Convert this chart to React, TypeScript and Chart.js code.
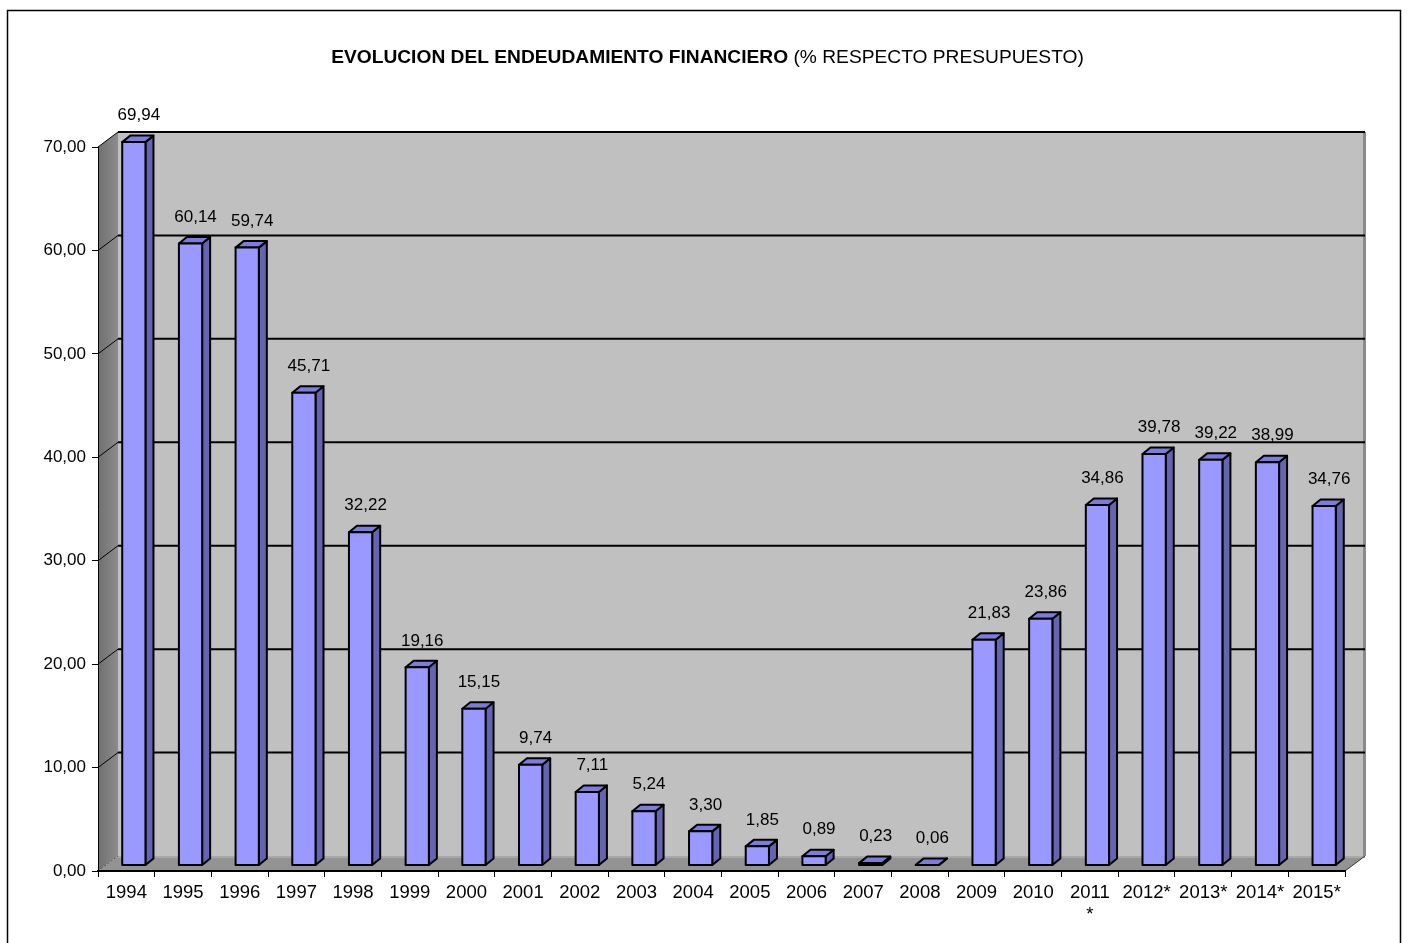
import React, { useEffect, useRef } from "react";
import { Chart, registerables } from "chart.js";

Chart.register(...registerables);

const categories = ["1994","1995","1996","1997","1998","1999","2000","2001","2002","2003","2004","2005","2006","2007","2008","2009","2010","2011\n*","2012*","2013*","2014*","2015*"];
const values = [69.94,60.14,59.74,45.71,32.22,19.16,15.15,9.74,7.11,5.24,3.30,1.85,0.89,0.23,0.06,21.83,23.86,34.86,39.78,39.22,38.99,34.76];
const yTicks = [0,10,20,30,40,50,60,70];
const titleBold = "EVOLUCION DEL ENDEUDAMIENTO FINANCIERO";
const titleNormal = " (% RESPECTO PRESUPUESTO)";

const FONT = "'Liberation Sans', Arial, sans-serif";
const WALL_DX = 20;
const WALL_DY = -15;
const BAR_SHIFT_X = 7.5;
const BAR_SHIFT_Y = -5.5;
const BAR_DX = 8;
const BAR_DY = -6.5;

const fmt = (v: number) => v.toFixed(2).replace(".", ",");

const decorPlugin = {
  id: "decor",
  beforeDraw(chart: any) {
    const { ctx, chartArea, scales } = chart;
    const ys = scales.y;
    const { left, right, top, bottom } = chartArea;
    ctx.save();
    ctx.fillStyle = "#ffffff";
    ctx.fillRect(0, 0, chart.width, chart.height);
    // outer frame
    ctx.strokeStyle = "#000";
    ctx.lineWidth = 1.5;
    ctx.strokeRect(7.5, 10.5, 1393, 1000);
    // title
    ctx.textBaseline = "middle";
    ctx.fillStyle = "#000";
    ctx.font = `bold 19.2px ${FONT}`;
    const wb = ctx.measureText(titleBold).width;
    ctx.font = `19.2px ${FONT}`;
    const wn = ctx.measureText(titleNormal).width;
    const tx = 707.5 - (wb + wn) / 2;
    ctx.textAlign = "left";
    ctx.font = `bold 19.2px ${FONT}`;
    ctx.fillText(titleBold, tx, 58);
    ctx.font = `19.2px ${FONT}`;
    ctx.fillText(titleNormal, tx + wb, 58);

    const bTop = top + WALL_DY;
    const bBot = bottom + WALL_DY;
    const bLeft = left + WALL_DX;
    const bRight = right + WALL_DX;
    // back wall
    ctx.fillStyle = "#C0C0C0";
    ctx.fillRect(bLeft, bTop, bRight - bLeft, bBot - bTop);
    ctx.fillStyle = "#8a8a8a";
    ctx.fillRect(bRight - 2, bTop, 3, bBot - bTop);
    // left wall
    const g = ctx.createLinearGradient(left, 0, bLeft, 0);
    g.addColorStop(0, "#6f6f6f");
    g.addColorStop(1, "#8c8c8c");
    ctx.fillStyle = g;
    ctx.beginPath();
    ctx.moveTo(left, top);
    ctx.lineTo(bLeft, bTop);
    ctx.lineTo(bLeft, bBot);
    ctx.lineTo(left, bottom);
    ctx.closePath();
    ctx.fill();
    // floor
    ctx.fillStyle = "#939393";
    ctx.beginPath();
    ctx.moveTo(left, bottom);
    ctx.lineTo(bLeft, bBot);
    ctx.lineTo(bRight, bBot);
    ctx.lineTo(right, bottom);
    ctx.closePath();
    ctx.fill();
    ctx.strokeStyle = "#a8a8a8";
    ctx.lineWidth = 2;
    ctx.beginPath();
    ctx.moveTo(bLeft, bBot + 1);
    ctx.lineTo(bRight, bBot + 1);
    ctx.stroke();
    // floor right edge
    ctx.strokeStyle = "#333";
    ctx.lineWidth = 1;
    ctx.beginPath();
    ctx.moveTo(right, bottom);
    ctx.lineTo(bRight, bBot);
    ctx.stroke();
    // gridlines
    yTicks.forEach((v) => {
      if (v === 0) return;
      const yf = ys.getPixelForValue(v);
      ctx.strokeStyle = "#000";
      ctx.lineWidth = 2;
      ctx.beginPath();
      ctx.moveTo(bLeft, yf + WALL_DY);
      ctx.lineTo(bRight, yf + WALL_DY);
      ctx.stroke();
      ctx.lineWidth = 1;
      ctx.beginPath();
      ctx.moveTo(left, yf);
      ctx.lineTo(bLeft, yf + WALL_DY);
      ctx.stroke();
    });
    // left wall base slant
    ctx.strokeStyle = "#555";
    ctx.setLineDash([2, 2]);
    ctx.beginPath();
    ctx.moveTo(left, bottom);
    ctx.lineTo(bLeft, bBot);
    ctx.stroke();
    ctx.setLineDash([]);
    ctx.restore();
  },
  afterDatasetsDraw(chart: any) {
    const { ctx } = chart;
    const meta = chart.getDatasetMeta(0);
    ctx.save();
    ctx.lineWidth = 2;
    ctx.strokeStyle = "#000";
    ctx.lineJoin = "round";
    meta.data.forEach((el: any, i: number) => {
      const p = el.getProps(["x", "y", "base", "width"], true);
      const x0 = p.x - p.width / 2 + BAR_SHIFT_X;
      const x1 = x0 + p.width;
      const yT = p.y + BAR_SHIFT_Y;
      const yB = p.base + BAR_SHIFT_Y;
      // side face
      ctx.fillStyle = "#6464B0";
      ctx.beginPath();
      ctx.moveTo(x1, yT);
      ctx.lineTo(x1 + BAR_DX, yT + BAR_DY);
      ctx.lineTo(x1 + BAR_DX, yB + BAR_DY);
      ctx.lineTo(x1, yB);
      ctx.closePath();
      ctx.fill();
      ctx.stroke();
      // top face
      ctx.fillStyle = "#7C7CDA";
      ctx.beginPath();
      ctx.moveTo(x0, yT);
      ctx.lineTo(x0 + BAR_DX, yT + BAR_DY);
      ctx.lineTo(x1 + BAR_DX, yT + BAR_DY);
      ctx.lineTo(x1, yT);
      ctx.closePath();
      ctx.fill();
      ctx.stroke();
      // front face
      ctx.fillStyle = "#9999FF";
      ctx.beginPath();
      ctx.rect(x0, yT, p.width, yB - yT);
      ctx.fill();
      ctx.stroke();
      // label
      ctx.fillStyle = "#000";
      ctx.font = `17px ${FONT}`;
      ctx.textAlign = "center";
      ctx.textBaseline = "middle";
      ctx.fillText(fmt(values[i]), (x0 + x1) / 2 + 5, yT + BAR_DY - 20);
    });
    ctx.restore();
  },
};

export default function App() {
  const ref = useRef<HTMLCanvasElement | null>(null);
  useEffect(() => {
    if (!ref.current) return;
    const chart = new Chart(ref.current, {
      type: "bar",
      data: {
        labels: categories,
        datasets: [
          {
            data: values,
            backgroundColor: "rgba(0,0,0,0)",
            borderWidth: 0,
            barPercentage: 0.41,
            categoryPercentage: 1,
          },
        ],
      },
      options: {
        responsive: false,
        animation: false,
        devicePixelRatio: 1,
        layout: { padding: { top: 147, right: 63, left: 0, bottom: 0 } },
        plugins: { legend: { display: false }, tooltip: { enabled: false }, title: { display: false } },
        scales: {
          x: {
            afterFit: (s: any) => { s.height = 72; },
            grid: { display: true, drawOnChartArea: false, drawTicks: true, tickLength: 6, color: "#000", offset: true },
            border: { display: true, color: "#000", width: 2 },
            ticks: {
              color: "#000",
              padding: 5,
              maxRotation: 0,
              autoSkip: false,
              font: { family: FONT, size: 18.5 },
              callback: function (this: any, val: any) {
                const l = String(this.getLabelForValue(val));
                return l.includes("\n") ? l.split("\n") : l;
              },
            },
          },
          y: {
            min: 0,
            max: 70,
            afterFit: (s: any) => { s.width = 98; },
            grid: { display: true, drawOnChartArea: false, drawTicks: true, tickLength: 6, color: "#000" },
            border: { display: true, color: "#000", width: 1 },
            ticks: {
              stepSize: 10,
              color: "#000",
              padding: 6,
              font: { family: FONT, size: 17 },
              callback: (v: any) => fmt(Number(v)),
            },
          },
        },
      },
      plugins: [decorPlugin],
    });
    return () => chart.destroy();
  }, []);
  return (
    <div style={{ position: "fixed", left: 0, top: 0, width: 1408, height: 943, background: "#fff", overflow: "hidden" }}>
      <canvas ref={ref} width={1408} height={943} style={{ display: "block", width: 1408, height: 943 }} />
    </div>
  );
}
